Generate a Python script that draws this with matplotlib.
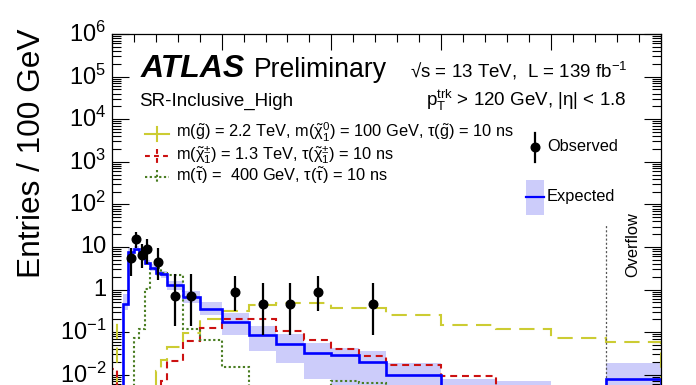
import numpy as np
import matplotlib
matplotlib.use("Agg")
import matplotlib.pyplot as plt
import matplotlib.transforms as mtransforms
from matplotlib.lines import Line2D
from matplotlib.patches import Rectangle
from matplotlib.ticker import FixedLocator, LogLocator, MultipleLocator, NullFormatter

plt.rcParams['font.family'] = ['Liberation Sans', 'DejaVu Sans']
plt.rcParams['mathtext.fontset'] = 'custom'
plt.rcParams['mathtext.rm'] = 'Liberation Sans'
plt.rcParams['mathtext.it'] = 'Liberation Sans:italic'
plt.rcParams['mathtext.bf'] = 'Liberation Sans:bold'
plt.rcParams['lines.scale_dashes'] = False

# ── data (entries / 100 GeV) ─────────────────────────────────────────────
bin_edges = [0, 50, 100, 150, 200, 250, 300, 350, 400, 450, 500, 650, 800,
             1000, 1250, 1500, 1750, 2000, 2250, 2500, 3000, 3500, 4000, 4500, 5000]

expected = [0, 0, 0.47, 7.8, 9.2, 6.8, 4.3, 3.3, 2.5, 2.3, 1.27, 0.67, 0.35,
            0.17, 0.087, 0.053, 0.033, 0.029, 0.020, 0.010, 0.005, 0.0035, 0.002, 0.008]
expected_lo = [0, 0, 0.33, 6.3, 8.0, 5.8, 3.7, 2.8, 2.1, 1.9, 1.0, 0.48, 0.26,
               0.088, 0.036, 0.019, 0.008, 0.005, 0.004, 0.001, 0.0005, 0.0004, 0.0002, 0.001]
expected_hi = [0, 0, 0.77, 9.5, 10.6, 8.0, 5.0, 3.9, 3.0, 2.8, 1.55, 0.92, 0.5,
               0.28, 0.14, 0.089, 0.057, 0.042, 0.036, 0.019, 0.0078, 0.007, 0.004, 0.019]

nan = np.nan
observed = [nan, nan, nan, 5.5, 15, 6.6, 9.0, nan, 4.5, nan, 0.72, 0.72, nan,
            0.88, 0.45, 0.45, 0.88, nan, 0.45, nan, nan, nan, nan, nan]
observed_lo = [nan, nan, nan, 2.1, 9.6, 3.2, 3.9, nan, 1.7, nan, 0.14, 0.14, nan,
               0.31, 0.088, 0.088, 0.31, nan, 0.088, nan, nan, nan, nan, nan]
observed_hi = [nan, nan, nan, 9.6, 23, 11.5, 15, nan, 9.6, nan, 2.3, 2.3, nan,
               2.07, 1.45, 1.45, 2.07, nan, 1.45, nan, nan, nan, nan, nan]

gluino = [0.17, 0, 0, 0, 0, 0, 0, 0, 0.012, 0.022, 0.044, 0.098, 0.2,
          0.32, 0.43, 0.49, 0.49, 0.38, 0.38, 0.26, 0.145, 0.12, 0.072, 0.059]
chargino = [0.014, 0, 0, 0, 0, 0, 0, 0, 0, 0.0073, 0.021, 0.063, 0.125,
            0.2, 0.2, 0.105, 0.067, 0.041, 0.027, 0.017, 0.0092, 0.005, 0.003, 0.002]
stau = [0, 0, 0, 0, 0.075, 0.12, 1.05, 3.0, 3.2, 2.5, 2.2, 0.12, 0.066,
        0.015, 0, 0, 0, 0.0073, 0.0065, 0, 0, 0, 0, 0]

overflow_edge = 4500

col_band = '#ccccfa'
col_exp = '#0000ff'
col_glu = '#cccc33'
col_chi = '#cc1111'
col_stau = '#4a7d22'

W, H = 696, 385


def fx(px):
    return px / W


def fy(py):
    return 1 - py / H


fig = plt.figure(figsize=(W / 100, H / 100), dpi=100)
# axes run below the bottom of the picture (the reference is cropped there)
ymin, ymax = 1e-3, 1e6
dec_px = 42.6
ax_h = np.log10(ymax / ymin) * dec_px
ax = fig.add_axes([fx(111.7), fy(34 + ax_h), (661 - 111.7) / W, ax_h / H])

edges = np.array(bin_edges, dtype=float)
centres = 0.5 * (edges[1:] + edges[:-1])

ax.stairs(expected_hi, edges, baseline=expected_lo, fill=True,
          color=col_band, lw=0, zorder=1)
ax.stairs(expected, edges, color=col_exp, lw=1.9, zorder=3)

s = ax.stairs(gluino, edges, color=col_glu, lw=1.5, zorder=2)
s.set_linestyle((0, (11, 6)))
s = ax.stairs(chargino, edges, color=col_chi, lw=1.5, zorder=2)
s.set_linestyle((0, (5, 3.5)))
s = ax.stairs(stau, edges, color=col_stau, lw=1.5, zorder=2)
s.set_linestyle((0, (1.6, 1.8)))

obs = np.array(observed)
err = [obs - np.array(observed_lo), np.array(observed_hi) - obs]
ax.errorbar(centres, obs, yerr=err, fmt='o', color='black', ms=6.2,
            elinewidth=1.6, capsize=0, zorder=5)

# overflow marker
ax.plot([overflow_edge, overflow_edge], [ymin, 33], color='#555555', lw=0.9,
        ls=(0, (1.5, 1.5)), zorder=2)
ax.text(4740, 10 ** (6 - (244.5 - 34) / dec_px), 'Overflow', rotation=90,
        ha='center', va='center', fontsize=11.8)

ax.set_yscale('log')
ax.set_ylim(ymin, ymax)
ax.set_xlim(0, 5000)

ax.xaxis.set_major_locator(MultipleLocator(1000))
ax.xaxis.set_minor_locator(MultipleLocator(200))
major_y = [10.0 ** k for k in range(-3, 7)]
ax.yaxis.set_major_locator(FixedLocator(major_y))
ax.yaxis.set_minor_locator(LogLocator(base=10, subs=np.arange(2, 10), numticks=100))
ax.yaxis.set_minor_formatter(NullFormatter())


def ylab(v):
    k = int(round(np.log10(v)))
    if k < -2:
        return ''  # below the cropped bottom edge
    if k == 0:
        return '1'
    if k == 1:
        return '10'
    return r'$10^{%d}$' % k


ax.set_yticklabels([ylab(v) for v in major_y])
ax.tick_params(axis='both', which='both', direction='in', top=True, right=True)
# x tick labels sit below the cropped bottom edge of the reference
ax.tick_params(axis='x', labelbottom=False)
ax.tick_params(axis='x', which='major', length=11.5, width=0.8)
ax.tick_params(axis='x', which='minor', length=5.8, width=0.8)
ax.tick_params(axis='y', which='major', length=12, width=0.8, labelsize=17, pad=4)
ax.tick_params(axis='y', which='minor', length=6.5, width=0.8)
for sp in ax.spines.values():
    sp.set_linewidth(0.9)

# nudge y labels up a touch so the lowest one stays inside the picture
lift = mtransforms.ScaledTranslation(0, 1.6 / 72, fig.dpi_scale_trans)
for lab in ax.get_yticklabels():
    lab.set_transform(lab.get_transform() + lift)

fig.text(fx(32), fy(29), 'Entries / 100 GeV', rotation=90, ha='center',
         va='top', fontsize=22.8)

# ── labels ───────────────────────────────────────────────────────────────
fig.text(fx(141), fy(77), 'ATLAS', fontsize=23, fontweight='bold',
         fontstyle='italic', va='baseline')
fig.text(fx(254), fy(77), 'Preliminary', fontsize=19.2, va='baseline')
fig.text(fx(410), fy(77), '√s = 13 TeV,  L = 139 fb$^{-1}$', fontsize=13.5,
         va='baseline')
fig.text(fx(139), fy(106), 'SR-Inclusive_High', fontsize=13.5, va='baseline')
fig.text(fx(626), fy(106), r'$\mathrm{p}_{\mathrm{T}}^{\mathrm{trk}}$ > 120 GeV, |η| < 1.8',
         fontsize=13.5, va='baseline', ha='right')

leg = [
    (col_glu, '-', 134,
     r'm($\tilde{\mathrm{g}}$) = 2.2 TeV, m($\tilde{\mathrm{χ}}^{0}_{1}$) = 100 GeV, τ($\tilde{\mathrm{g}}$) = 10 ns'),
    (col_chi, (0, (3.5, 3)), 156,
     r'm($\tilde{\mathrm{χ}}^{\pm}_{1}$) = 1.3 TeV, τ($\tilde{\mathrm{χ}}^{\pm}_{1}$) = 10 ns'),
    (col_stau, (0, (1.6, 1.8)), 177,
     r'm($\tilde{\mathrm{τ}}$) =  400 GeV, τ($\tilde{\mathrm{τ}}$) = 10 ns'),
]
for col, ls, py, txt in leg:
    fig.add_artist(Line2D([fx(145), fx(169)], [fy(py), fy(py)], color=col,
                          lw=1.5, ls=ls, transform=fig.transFigure))
    fig.add_artist(Line2D([fx(157), fx(157)], [fy(py - 7), fy(py + 7)], color=col,
                          lw=1.5, ls=ls, transform=fig.transFigure))
    fig.text(fx(176.5), fy(py + 4), txt, fontsize=11.8, va='baseline')

# observed / expected legend
fig.add_artist(Line2D([fx(535), fx(535)], [fy(133), fy(162)], color='black',
                      lw=1.6, transform=fig.transFigure))
fig.add_artist(Line2D([fx(535)], [fy(147)], marker='o', ms=6.2, color='black',
                      transform=fig.transFigure))
fig.text(fx(547), fy(151), 'Observed', fontsize=11.8, va='baseline')
fig.add_artist(Rectangle((fx(526), fy(215)), fx(18), 35 / H, color=col_band,
                         lw=0, transform=fig.transFigure))
fig.add_artist(Line2D([fx(526), fx(544)], [fy(197), fy(197)], color=col_exp,
                      lw=1.6, transform=fig.transFigure))
fig.text(fx(547), fy(201), 'Expected', fontsize=11.8, va='baseline')

fig.savefig('out.png', dpi=100)
